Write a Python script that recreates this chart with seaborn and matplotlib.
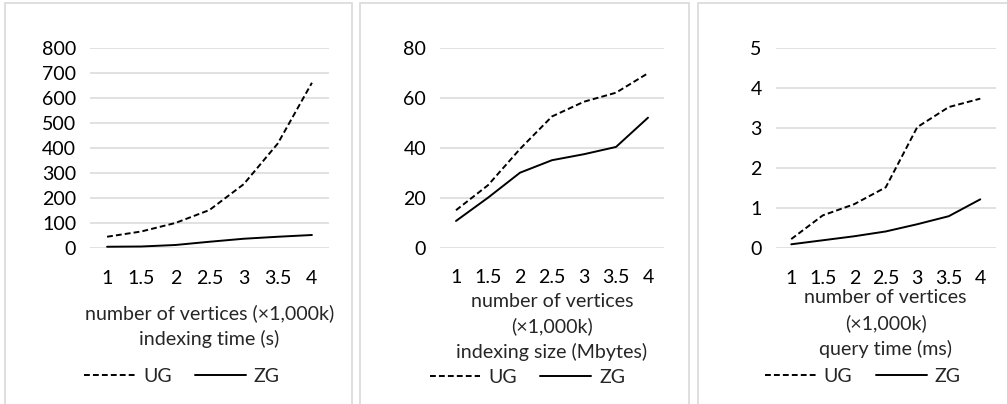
import numpy as np
import pandas as pd
import matplotlib
matplotlib.use("Agg")
import matplotlib.pyplot as plt
import seaborn as sns
from matplotlib.patches import Rectangle

# data
vertices = [1, 1.5, 2, 2.5, 3, 3.5, 4]
vertex_labels = ["1", "1.5", "2", "2.5", "3", "3.5", "4"]

time_ug = [45, 66, 100, 152, 255, 418, 661]
time_zg = [5, 6, 12, 25, 37, 45, 52]

size_ug = [15, 25, 39.5, 52.5, 58.4, 62, 69.8]
size_zg = [10.7, 20, 30, 35, 37.4, 40.3, 52]

query_ug = [0.23, 0.82, 1.1, 1.52, 3.02, 3.52, 3.73]
query_zg = [0.1, 0.2, 0.3, 0.42, 0.6, 0.8, 1.22]

titles = [
    "number of vertices (\u00d71,000k)\nindexing time (s)",
    "number of vertices\n(\u00d71,000k)\nindexing size (Mbytes)",
    "number of vertices\n(\u00d71,000k)\nquery time (ms)",
]
yticks = [np.arange(0, 801, 100), np.arange(0, 81, 20), np.arange(0, 6, 1)]

sns.set_style("white")
plt.rcParams["font.family"] = ["Lato", "DejaVu Sans"]

W, H = 1007, 404
FS = 14.1
fig = plt.figure(figsize=(W / 100, H / 100), dpi=100)

# panel frames (pixels: left, right)
frames = [(5, 352), (360, 689), (698, 1012)]
for l, r in frames:
    fig.patches.append(Rectangle((l / W, -0.05), (r - l) / W, (H - 3) / H + 0.05,
                                 transform=fig.transFigure, fill=False,
                                 edgecolor="#d9d9d9", linewidth=1.2))

# plot areas in pixels: left, right, top, bottom
areas = [(90, 329, 48, 248), (440, 664, 47.7, 247.7), (775.5, 996, 47.7, 248.3)]
series = [(time_ug, time_zg), (size_ug, size_zg), (query_ug, query_zg)]
label_y = [-0.279, -0.225, -0.205]
legend_pos = [(0.385, -0.64), (0.39, -0.65), (0.395, -0.637)]

for i, ((l, r, t, b), (ug, zg)) in enumerate(zip(areas, series)):
    ax = fig.add_axes([l / W, (H - b) / H, (r - l) / W, (b - t) / H])
    df = pd.DataFrame({
        "vertices": vertices * 2,
        "value": ug + zg,
        "graph": ["UG"] * len(ug) + ["ZG"] * len(zg),
    })
    sns.lineplot(data=df, x="vertices", y="value", style="graph",
                 dashes={"UG": (3, 1.6), "ZG": ""}, color="black",
                 linewidth=1.4, ax=ax)
    ax.set_xlim(0.75, 4.25)
    ax.set_ylim(yticks[i][0], yticks[i][-1])
    ax.set_yticks(yticks[i])
    ax.set_xticks(vertices)
    ax.set_xticklabels(vertex_labels)
    ax.tick_params(axis="both", length=0, labelsize=FS, colors="#000000")
    ax.tick_params(axis="y", pad=10)
    ax.tick_params(axis="x", pad=15.5)
    ax.yaxis.grid(True, color="#d9d9d9", linewidth=1.1)
    ax.set_axisbelow(True)
    for s in ax.spines.values():
        s.set_visible(False)
    ax.set_xlabel(titles[i], fontsize=FS, linespacing=1.52)
    ax.xaxis.set_label_coords(0.5, label_y[i])
    ax.set_ylabel("")
    ax.legend(loc="center", bbox_to_anchor=legend_pos[i],
              ncol=2, frameon=False, fontsize=FS, handlelength=2.6,
              columnspacing=1.2, handletextpad=0.4, title=None)
    for ln in ax.get_legend().get_lines():
        ln.set_linewidth(1.4)

fig.savefig("out.png", dpi=100)
